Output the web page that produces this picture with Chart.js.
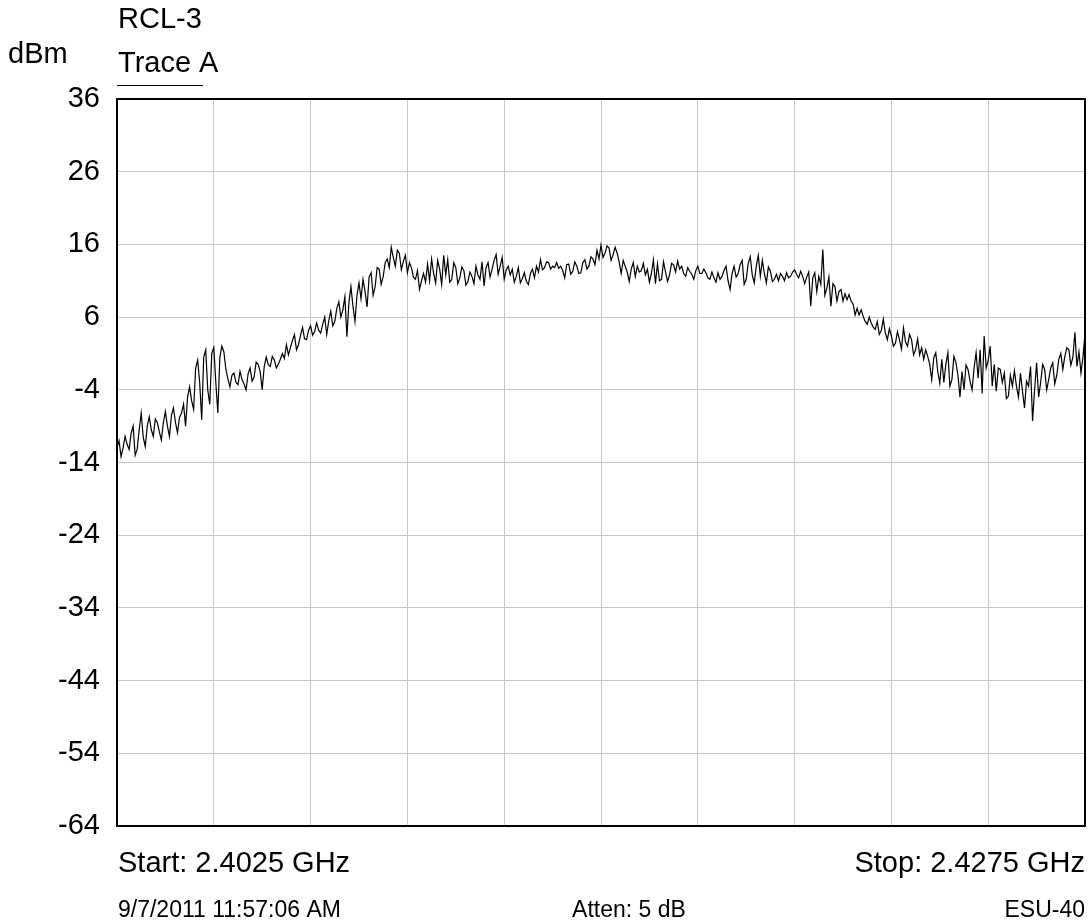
<!DOCTYPE html>
<html><head><meta charset="utf-8">
<script src="https://cdn.jsdelivr.net/npm/chart.js@4/dist/chart.umd.min.js"></script>
<style>
html,body{margin:0;padding:0;background:#fff;}
canvas{display:block;}
</style></head><body>
<canvas id="c" width="1089" height="924"></canvas>
<script>
// ---- data ----
const startGHz = 2.4025;
const stopGHz = 2.4275;
const yTickValues = [-64, -54, -44, -34, -24, -14, -4, 6, 16, 26, 36];
const xGridGHz = [2.4025, 2.4050, 2.4075, 2.4100, 2.4125, 2.4150, 2.4175, 2.4200, 2.4225, 2.4250, 2.4275];
const traceA = [
 -12.0,-11.0,-13.2,-12.0,-10.4,-11.5,-12.2,-10.0,-9.0,-13.0,-12.2,-9.5,-7.2,-10.5,-11.8,-9.0,-7.7,-9.5,-10.4,-8.0,
 -8.5,-9.8,-10.9,-8.5,-7.0,-9.0,-10.4,-7.5,-6.5,-8.5,-9.9,-7.8,-7.2,-6.0,-9.0,-5.0,-3.6,-5.5,-6.7,-1.0,
 0.1,-3.0,-8.1,0.5,1.5,-4.0,-6.0,1.0,1.8,-3.0,-7.2,0.5,2.0,1.2,-1.2,-2.5,-3.6,-2.0,-1.7,-3.0,
 -3.3,-1.5,-2.6,-3.2,-4.0,-1.8,-1.0,-2.8,-2.2,-0.2,-0.5,-1.5,-4.0,-0.8,0.5,-0.5,-0.8,0.6,0.1,-1.0,
 -0.5,0.2,1.0,0.3,2.2,0.8,1.8,2.8,3.6,1.5,2.2,3.5,4.6,3.0,2.9,4.2,4.8,3.5,4.0,5.2,
 4.2,3.8,5.0,6.0,3.6,5.5,6.8,4.8,5.4,7.2,8.1,6.0,7.0,8.8,3.3,8.0,10.2,7.5,5.4,9.0,
 10.7,8.5,11.2,9.5,7.4,11.5,12.1,9.0,10.2,12.8,12.6,10.5,11.6,13.5,14.0,12.8,15.6,14.2,13.0,15.2,
 14.8,12.5,13.7,14.5,12.1,13.5,12.8,11.5,11.2,12.4,9.8,11.0,12.0,10.8,13.3,11.0,14.0,12.0,10.7,13.8,
 12.6,10.5,14.5,11.8,13.9,10.8,11.2,13.5,12.8,10.6,11.4,12.9,12.4,10.4,10.9,12.2,11.6,10.6,13.0,11.8,
 11.2,13.6,10.3,12.8,13.5,11.5,12.6,13.8,14.6,11.9,13.0,14.2,11.2,12.5,13.0,11.8,12.6,10.8,11.6,12.8,
 10.7,11.3,12.1,10.9,10.5,12.0,12.6,11.4,13.0,12.2,13.9,12.5,12.8,13.6,13.5,12.6,13.0,12.8,13.5,12.7,
 13.0,12.4,11.4,13.2,13.3,11.9,12.3,13.6,13.0,12.0,12.1,13.5,13.9,12.6,13.0,14.3,14.0,13.2,15.2,14.0,
 15.9,14.2,14.8,15.8,15.5,13.8,14.6,15.6,14.8,13.6,12.0,13.8,13.0,12.2,10.9,12.6,13.5,11.6,13.0,12.2,
 12.4,13.4,11.8,12.6,10.8,12.0,13.9,10.6,13.3,11.0,11.2,13.6,12.2,10.9,11.8,13.4,13.2,12.2,13.7,12.6,
 13.0,12.0,11.6,12.8,12.3,11.9,11.2,12.4,13.0,12.0,12.0,12.6,12.1,11.4,11.2,12.2,11.4,10.8,12.1,11.2,
 11.6,12.4,13.0,11.0,9.8,12.0,13.0,11.5,12.0,13.2,13.8,10.5,11.2,13.4,14.3,11.8,10.7,13.0,14.5,11.6,
 13.8,12.0,10.7,12.9,12.3,10.9,11.2,11.9,11.0,12.0,11.6,11.0,12.1,11.4,11.6,12.2,12.5,11.9,11.4,12.3,
 11.6,10.6,11.5,12.2,7.5,11.4,12.1,9.5,11.6,10.5,15.3,9.0,10.0,11.5,7.5,10.6,10.2,8.2,9.5,9.8,
 8.2,9.2,8.4,9.1,8.2,7.8,6.3,7.2,6.3,7.0,6.1,5.4,5.0,6.0,5.2,4.6,4.3,5.4,3.6,4.2,
 5.7,3.8,2.9,4.4,3.4,2.0,2.4,4.0,2.9,1.6,4.5,2.6,2.0,3.6,2.9,0.8,1.5,3.0,0.8,1.8,
 0.2,1.5,0.6,-0.5,-2.6,0.4,1.1,-1.5,-3.1,0.2,-3.0,-0.5,1.1,-3.5,-2.6,0.6,-0.3,-2.0,-5.0,-1.5,
 -4.0,-0.6,-1.2,-2.8,-4.0,-1.0,1.1,-2.4,1.5,-4.5,3.4,-1.0,0.0,2.0,-3.5,-0.5,-4.2,-1.0,-1.2,-3.0,
 -1.7,-5.2,-4.9,-2.0,-3.5,-1.4,-3.5,-5.0,-1.7,-4.2,-6.5,-2.8,-3.5,-0.8,-8.3,-4.0,-0.3,-5.0,-3.0,-0.5,
 -1.2,-4.0,-2.6,-1.0,-0.3,-3.2,-2.0,0.2,1.0,-1.2,0.6,1.8,1.5,-0.6,0.5,3.9,-0.8,1.2,-1.7,0.5,
 3.8
];
const unitLabel = 'dBm';
const titleLabel = 'RCL-3';
const traceLabel = 'Trace A';
const startLabel = 'Start: 2.4025 GHz';
const stopLabel = 'Stop: 2.4275 GHz';
const dateLabel = '9/7/2011 11:57:06 AM';
const attenLabel = 'Atten: 5 dB';
const modelLabel = 'ESU-40';

// sweep points (x grid of the analyser sweep)
const stepGHz = (stopGHz - startGHz) / (traceA.length - 1);
const points = traceA.map((v, i) => ({ x: startGHz + i * stepGHz, y: v }));

const FONT = "'Liberation Sans', Arial, sans-serif";
const FS = 29;
const FS_SMALL = 23;

const textPlugin = {
  id: 'texts',
  afterDraw(chart) {
    const ctx = chart.ctx;
    const a = chart.chartArea;
    ctx.save();
    // frame
    ctx.strokeStyle = '#000';
    ctx.lineWidth = 2;
    ctx.strokeRect(a.left, a.top, a.right - a.left, a.bottom - a.top);
    ctx.fillStyle = '#000';
    ctx.font = FS + 'px ' + FONT;
    ctx.textBaseline = 'alphabetic';
    ctx.textAlign = 'left';
    ctx.fillText(unitLabel, 8, 63);
    ctx.fillText(titleLabel, a.left + 1, 28);
    ctx.fillText(traceLabel, a.left + 1, 72);
    ctx.fillText(startLabel, a.left + 1, 872);
    ctx.textAlign = 'right';
    ctx.fillText(stopLabel, a.right, 872);
    ctx.font = FS_SMALL + 'px ' + FONT;
    ctx.textAlign = 'left';
    ctx.fillText(dateLabel, a.left + 1, 917);
    ctx.textAlign = 'center';
    ctx.fillText(attenLabel, 629, 917);
    ctx.textAlign = 'right';
    ctx.fillText(modelLabel, a.right, 917);
    // underline under trace label
    ctx.lineWidth = 1;
    ctx.beginPath();
    ctx.moveTo(a.left, 85.5);
    ctx.lineTo(203, 85.5);
    ctx.stroke();
    ctx.restore();
  }
};

new Chart(document.getElementById('c'), {
  type: 'line',
  data: {
    datasets: [{
      data: points,
      borderColor: '#000',
      borderWidth: 1.2,
      pointRadius: 0,
      tension: 0,
      fill: false
    }]
  },
  options: {
    responsive: false,
    animation: false,
    events: [],
    layout: { padding: { left: 0, top: 99, right: 4, bottom: 98 } },
    plugins: { legend: { display: false }, tooltip: { enabled: false } },
    scales: {
      x: {
        type: 'linear',
        min: startGHz,
        max: stopGHz,
        afterBuildTicks: (s) => { s.ticks = xGridGHz.map(v => ({ value: v })); },
        afterFit: (s) => { s.height = 0; },
        ticks: { display: false },
        grid: { color: '#c8c8c8', lineWidth: 1, drawTicks: false },
        border: { display: false }
      },
      y: {
        min: yTickValues[0],
        max: yTickValues[yTickValues.length - 1],
        afterBuildTicks: (s) => { s.ticks = yTickValues.map(v => ({ value: v })); },
        afterFit: (s) => { s.width = 117; },
        ticks: { color: '#000', font: { family: FONT, size: FS }, padding: 17 },
        grid: { color: '#c8c8c8', lineWidth: 1, drawTicks: false },
        border: { display: false }
      }
    }
  },
  plugins: [textPlugin]
});
</script>
</body></html>
